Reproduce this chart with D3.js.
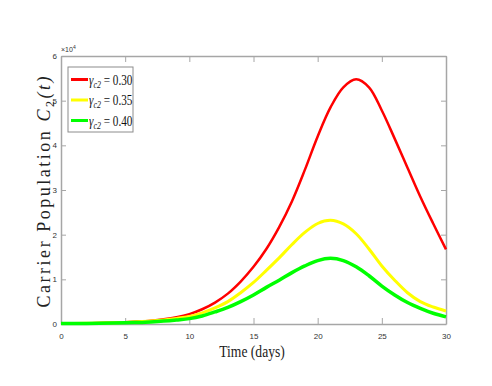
<!DOCTYPE html>
<meta charset="utf-8">
<style>
    body { margin: 0; background: #fff; }
    .tick text { font: 8px "Liberation Sans", sans-serif; fill: #333; }
</style>
<body>
<svg width="492" height="386"></svg>
<script src="https://d3js.org/d3.v7.min.js"></script>
<script>
    // days 0..30, values in units of 10^4
    var days = d3.range(0, 31);
    var gammaLabels = ["0.30", "0.35", "0.40"];
    var colors = ["#ff0000", "#ffff00", "#00ff00"];
    var red = [0.01, 0.013, 0.017, 0.022, 0.03, 0.04, 0.055, 0.075, 0.105, 0.15, 0.22, 0.33, 0.48, 0.68, 0.95,
        1.28, 1.68, 2.17, 2.75, 3.45, 4.2, 4.85, 5.3, 5.48, 5.3, 4.78, 4.15, 3.5, 2.85, 2.25, 1.67];
    var yellow = [0.01, 0.012, 0.015, 0.02, 0.026, 0.035, 0.048, 0.065, 0.09, 0.125, 0.17, 0.25, 0.36, 0.5, 0.7,
        0.93, 1.2, 1.48, 1.78, 2.05, 2.25, 2.32, 2.24, 2.02, 1.68, 1.3, 0.98, 0.7, 0.5, 0.38, 0.29];
    var green = [0.01, 0.011, 0.013, 0.016, 0.02, 0.026, 0.035, 0.047, 0.065, 0.09, 0.12, 0.18, 0.27, 0.37, 0.5,
        0.65, 0.82, 0.98, 1.15, 1.3, 1.42, 1.47, 1.42, 1.28, 1.08, 0.85, 0.65, 0.48, 0.35, 0.24, 0.16];
    var series = [red, yellow, green];
    var widths = [2.5, 3, 3.5];
    var xTicks = [0, 5, 10, 15, 20, 25, 30];
    var yTicks = [0, 1, 2, 3, 4, 5, 6];

    var svg = d3.select("svg"),
        margin = {top: 56, right: 46, bottom: 62, left: 61},
        width = +svg.attr("width") - margin.left - margin.right,
        height = +svg.attr("height") - margin.top - margin.bottom;

    var x = d3.scaleLinear().domain([0, 30]).range([0, width]),
        y = d3.scaleLinear().domain([0, 6]).range([height, 0]);

    var g = svg.append("g")
        .attr("transform", "translate(" + margin.left + "," + margin.top + ")");

    var axisColor = "#a6a6a6";

    function styleAxis(sel) {
        sel.select(".domain").attr("stroke", axisColor).attr("stroke-width", 1.5);
        sel.selectAll(".tick line").attr("stroke", axisColor);
    }

    g.append("g")
        .attr("transform", "translate(0," + height + ")")
        .call(d3.axisBottom(x).tickValues(xTicks).tickSizeInner(-6).tickSizeOuter(0).tickPadding(9))
        .call(styleAxis);
    g.append("g")
        .call(d3.axisTop(x).tickValues(xTicks).tickSizeInner(-6).tickSizeOuter(0).tickFormat(""))
        .call(styleAxis);
    g.append("g")
        .call(d3.axisLeft(y).tickValues(yTicks).tickSizeInner(-5).tickSizeOuter(0).tickPadding(4)
            .tickFormat(d3.format("d")))
        .call(styleAxis);
    g.append("g")
        .attr("transform", "translate(" + width + ",0)")
        .call(d3.axisRight(y).tickValues(yTicks).tickSizeInner(-5).tickSizeOuter(0).tickFormat(""))
        .call(styleAxis);

    // exponent label
    var ex = g.append("text").attr("x", 0).attr("y", -4)
        .style("font", "7px 'Liberation Sans', sans-serif").attr("fill", "#333");
    ex.append("tspan").text("\u00d710");
    ex.append("tspan").attr("dy", -3).style("font-size", "5px").text("4");

    var line = d3.line()
        .x(function (d, i) { return x(days[i]); })
        .y(function (d) { return y(d); })
        .curve(d3.curveCatmullRom.alpha(0.5));

    g.selectAll(".curve")
        .data(series)
        .enter().append("path")
        .attr("class", "curve")
        .attr("fill", "none")
        .attr("stroke", function (d, i) { return colors[i]; })
        .attr("stroke-width", function (d, i) { return widths[i]; })
        .attr("d", line);

    // legend
    var lg = svg.append("g").attr("transform", "translate(68,67)");
    lg.append("rect").attr("width", 65).attr("height", 65)
        .attr("fill", "#fff").attr("stroke", "#8c8c8c").attr("stroke-width", 1);
    gammaLabels.forEach(function (lab, i) {
        var yy = 12.5 + i * 20.5;
        lg.append("line").attr("x1", 3).attr("x2", 20).attr("y1", yy).attr("y2", yy)
            .attr("stroke", colors[i]).attr("stroke-width", 3);
        var t = lg.append("g").attr("transform", "translate(21," + (yy + 5) + ") scale(0.8,1)")
            .append("text")
            .style("font", "14px 'Liberation Serif', serif").attr("fill", "#111");
        t.append("tspan").style("font-style", "italic").text("\u03b3");
        t.append("tspan").attr("dy", 3).style("font-size", "10px").style("font-style", "italic").text("c2");
        t.append("tspan").attr("dy", -3).text(" = " + lab);
    });

    // axis labels
    svg.append("text")
        .attr("transform", "translate(252,357) scale(0.8,1)")
        .attr("text-anchor", "middle")
        .style("font", "17px 'Liberation Serif', serif").attr("fill", "#222")
        .text("Time (days)");

    var yl = svg.append("text")
        .attr("transform", "translate(50,192) rotate(-90)")
        .attr("text-anchor", "middle")
        .attr("textLength", 231).attr("lengthAdjust", "spacing")
        .style("font", "18px 'Liberation Serif', serif").attr("fill", "#222");
    yl.append("tspan").text("Carrier Population ");
    yl.append("tspan").style("font-style", "italic").text("C");
    yl.append("tspan").attr("dy", 4).style("font-size", "12px").text("2");
    yl.append("tspan").attr("dy", -4).style("font-style", "italic").text("(t)");
</script>
</body>
